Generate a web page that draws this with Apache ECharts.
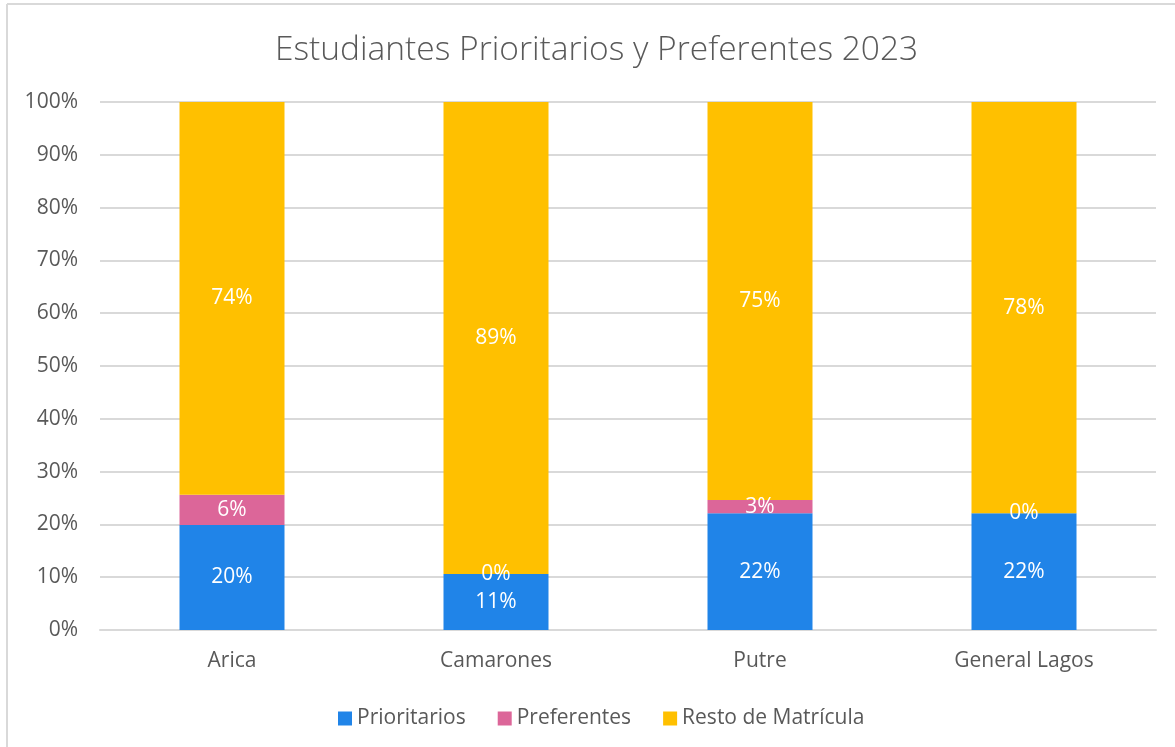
<!DOCTYPE html>
<html>
<head>
<meta charset="utf-8">
<script src="https://cdn.jsdelivr.net/npm/echarts@6/dist/echarts.min.js"></script>
<style>
html,body{margin:0;padding:0;background:#fff;}
#chart{width:1175px;height:747px;}
</style>
</head>
<body>
<div id="chart"></div>
<script>
const categories = ['Arica', 'Camarones', 'Putre', 'General Lagos'];
const prioritarios = [19.9, 10.6, 22.1, 22.1];
const preferentes = [5.7, 0.0, 2.5, 0.0];
const restoMatricula = [74.4, 89.4, 75.4, 77.9];
const yTicks = [0, 10, 20, 30, 40, 50, 60, 70, 80, 90, 100];

const textColor = '#595959';
const fontFam = '"Open Sans", "Noto Sans", sans-serif';

function mkSeries(name, data, color) {
  return {
    name: name,
    type: 'bar',
    stack: 'total',
    data: data,
    barWidth: 105,
    itemStyle: { color: color },
    label: {
      show: true,
      position: 'inside',
      color: '#ffffff',
      fontSize: 21,
      fontFamily: fontFam,
      formatter: p => Math.round(p.value) + '%'
    },
    emphasis: { disabled: true }
  };
}

const chart = echarts.init(document.getElementById('chart'), null, { renderer: 'canvas' });
chart.setOption({
  animation: false,
  backgroundColor: '#ffffff',
  title: {
    text: 'Estudiantes Prioritarios y Preferentes 2023',
    left: 270,
    top: 28,
    textStyle: { color: textColor, fontSize: 33.5, fontWeight: 300, fontFamily: fontFam }
  },
  legend: {
    top: 703,
    left: 333,
    itemWidth: 14,
    itemHeight: 14,
    itemGap: 32,
    icon: 'rect',
    textStyle: { color: textColor, fontSize: 21, fontFamily: fontFam }
  },
  grid: { left: 100, right: 19, top: 102, bottom: 117, containLabel: false },
  xAxis: {
    type: 'category',
    data: categories,
    axisLine: { lineStyle: { color: '#d9d9d9', width: 2 } },
    axisTick: { show: false },
    axisLabel: { color: textColor, fontSize: 21, fontFamily: fontFam, margin: 21 }
  },
  yAxis: {
    type: 'value',
    min: yTicks[0],
    max: yTicks[yTicks.length - 1],
    interval: 10,
    axisLine: { show: false },
    axisTick: { show: false },
    splitLine: { lineStyle: { color: '#d9d9d9', width: 2 } },
    axisLabel: { color: textColor, fontSize: 21, fontFamily: fontFam, margin: 22, formatter: v => v + '%' }
  },
  graphic: [
    { type: 'line', shape: { x1: 7, y1: 4, x2: 1175, y2: 4 }, style: { stroke: '#d9d9d9', lineWidth: 2 } },
    { type: 'line', shape: { x1: 7, y1: 4, x2: 7, y2: 747 }, style: { stroke: '#d9d9d9', lineWidth: 2 } }
  ],
  series: [
    mkSeries('Prioritarios', prioritarios, '#2084e8'),
    mkSeries('Preferentes', preferentes, '#dc6699'),
    mkSeries('Resto de Matrícula', restoMatricula, '#ffc000')
  ]
});
</script>
</body>
</html>
